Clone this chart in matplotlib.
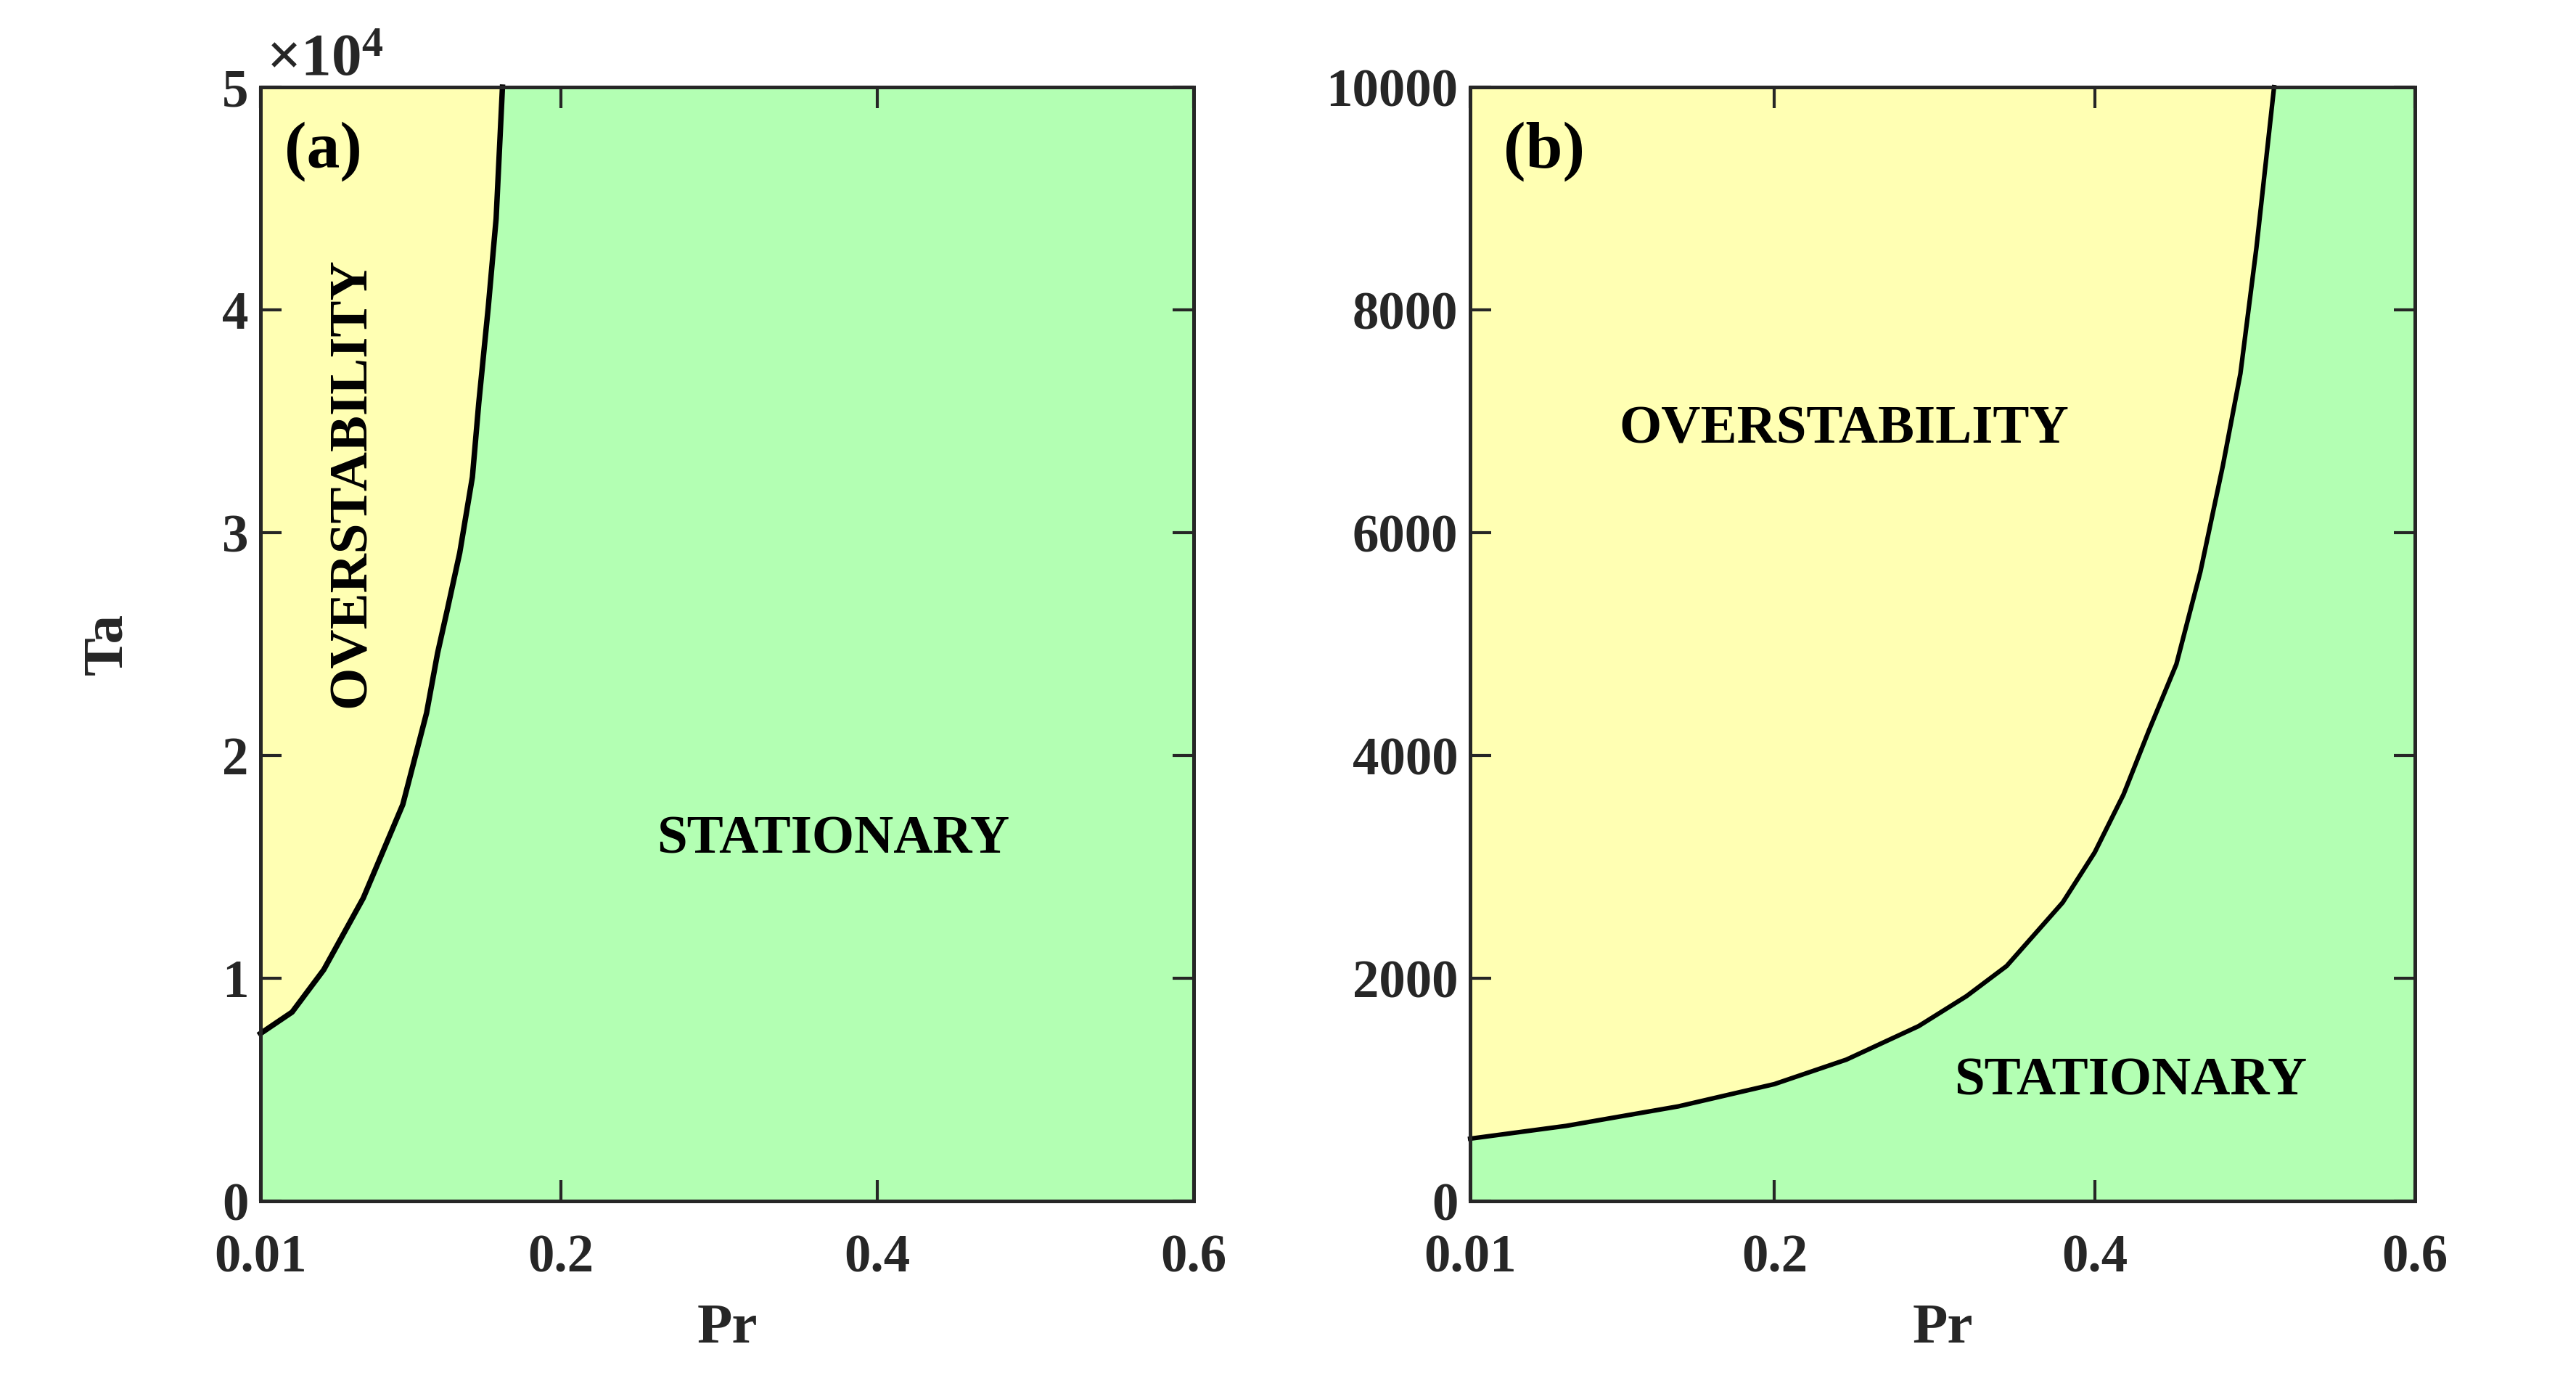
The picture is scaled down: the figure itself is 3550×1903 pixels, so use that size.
import matplotlib.pyplot as plt

plt.rcParams['font.family'] = ['Liberation Serif', 'DejaVu Serif']
plt.rcParams['font.weight'] = 'bold'
plt.rcParams['axes.labelweight'] = 'bold'
plt.rcParams['mathtext.fontset'] = 'custom'
plt.rcParams['mathtext.rm'] = 'Liberation Serif:bold'
plt.rcParams['mathtext.bf'] = 'Liberation Serif:bold'
plt.rcParams['mathtext.it'] = 'Liberation Serif:italic:bold'

# neutral curve, panel (a)
pr_a = [0.01, 0.03, 0.05, 0.075, 0.10, 0.115, 0.122, 0.128, 0.136, 0.144, 0.148, 0.154, 0.159, 0.163]
ta_a = [7520, 8480, 10380, 13600, 17800, 21900, 24600, 26500, 29100, 32500, 35800, 40100, 44100, 50000]

# neutral curve, panel (b)
pr_b = [0.01, 0.07, 0.14, 0.20, 0.245, 0.29, 0.32, 0.345, 0.38, 0.40, 0.418, 0.434, 0.451,
        0.466, 0.480, 0.491, 0.501, 0.512]
ta_b = [560, 675, 850, 1050, 1270, 1570, 1840, 2110, 2680, 3130, 3650, 4230, 4820,
        5650, 6600, 7430, 8560, 10000]

x_ticks = [0.01, 0.2, 0.4, 0.6]
x_ticklabels = ['0.01', '0.2', '0.4', '0.6']
y_ticks_a = [0, 10000, 20000, 30000, 40000, 50000]
y_ticklabels_a = ['0', '1', '2', '3', '4', '5']
y_ticks_b = [0, 2000, 4000, 6000, 8000, 10000]
y_ticklabels_b = ['0', '2000', '4000', '6000', '8000', '10000']

yellow = '#FFFFB3'
green = '#B3FFB3'
dark = '#262626'
olive = '#6B6B20'
dkgreen = '#1E621E'

fig = plt.figure(figsize=(3550 / 300, 1903 / 300), dpi=300)
ax_a = fig.add_axes([0.1011, 0.1303, 0.3623, 0.8066])
ax_b = fig.add_axes([0.5707, 0.1303, 0.3668, 0.8066])


def style(ax, ymax, yticks, yticklabels):
    ax.set_xlim(0.01, 0.6)
    ax.set_ylim(0, ymax)
    ax.set_xticks(x_ticks)
    ax.set_xticklabels(x_ticklabels)
    ax.set_yticks(yticks)
    ax.set_yticklabels(yticklabels)
    ax.set_facecolor(green)
    ax.tick_params(direction='in', length=7, width=1.0, top=True, right=True,
                   labelsize=17.5, labelcolor=dark, color=dark)
    ax.tick_params(axis='x', pad=11)
    ax.tick_params(axis='y', pad=4)
    for s in ax.spines.values():
        s.set_color(dark)
        s.set_linewidth(1.2)
    ax.set_xlabel('Pr', fontsize=19, color=dark, fontweight='bold')
    ax.xaxis.set_label_coords(0.5, -0.092)


style(ax_a, 50000, y_ticks_a, y_ticklabels_a)
ax_a.fill_between(pr_a, ta_a, 50000, color=yellow, lw=0)
ax_a.plot(pr_a, ta_a, color='k', lw=1.8, clip_on=False)
ax_a.set_ylabel('Ta', fontsize=19, color=dark, fontweight='bold')
ax_a.yaxis.set_label_coords(-0.136, 0.5)
ax_a.text(0.006, 1.011, r'$\times 10^{4}$', transform=ax_a.transAxes, fontsize=20,
          color=dark, va='baseline', ha='left')
ax_a.text(0.026, 0.928, '(a)', transform=ax_a.transAxes, fontsize=22, va='baseline')
ax_a.text(0.098, 0.645, 'OVERSTABILITY', transform=ax_a.transAxes, fontsize=18,
          rotation=90, ha='center', va='center')
ax_a.text(0.6135, 0.324, 'STATIONARY', transform=ax_a.transAxes, fontsize=18,
          ha='center', va='center')

style(ax_b, 10000, y_ticks_b, y_ticklabels_b)
ax_b.fill_between(pr_b, ta_b, 10000, color=yellow, lw=0)
ax_b.plot(pr_b, ta_b, color='k', lw=1.5, clip_on=False)
ax_b.text(0.035, 0.928, '(b)', transform=ax_b.transAxes, fontsize=22, va='baseline')
ax_b.text(0.396, 0.692, 'OVERSTABILITY', transform=ax_b.transAxes, fontsize=18,
          ha='center', va='center')
ax_b.text(0.699, 0.1075, 'STATIONARY', transform=ax_b.transAxes, fontsize=18,
          ha='center', va='center')

# ticks in panel (b) pick up the colour of the region they sit in
for t in ax_b.yaxis.get_major_ticks():
    t.tick1line.set_color(olive)
    t.tick2line.set_color(dkgreen)
for t in ax_b.xaxis.get_major_ticks():
    t.tick1line.set_color(dkgreen)
    t.tick2line.set_color(olive)

fig.savefig('out.png', dpi=300)
